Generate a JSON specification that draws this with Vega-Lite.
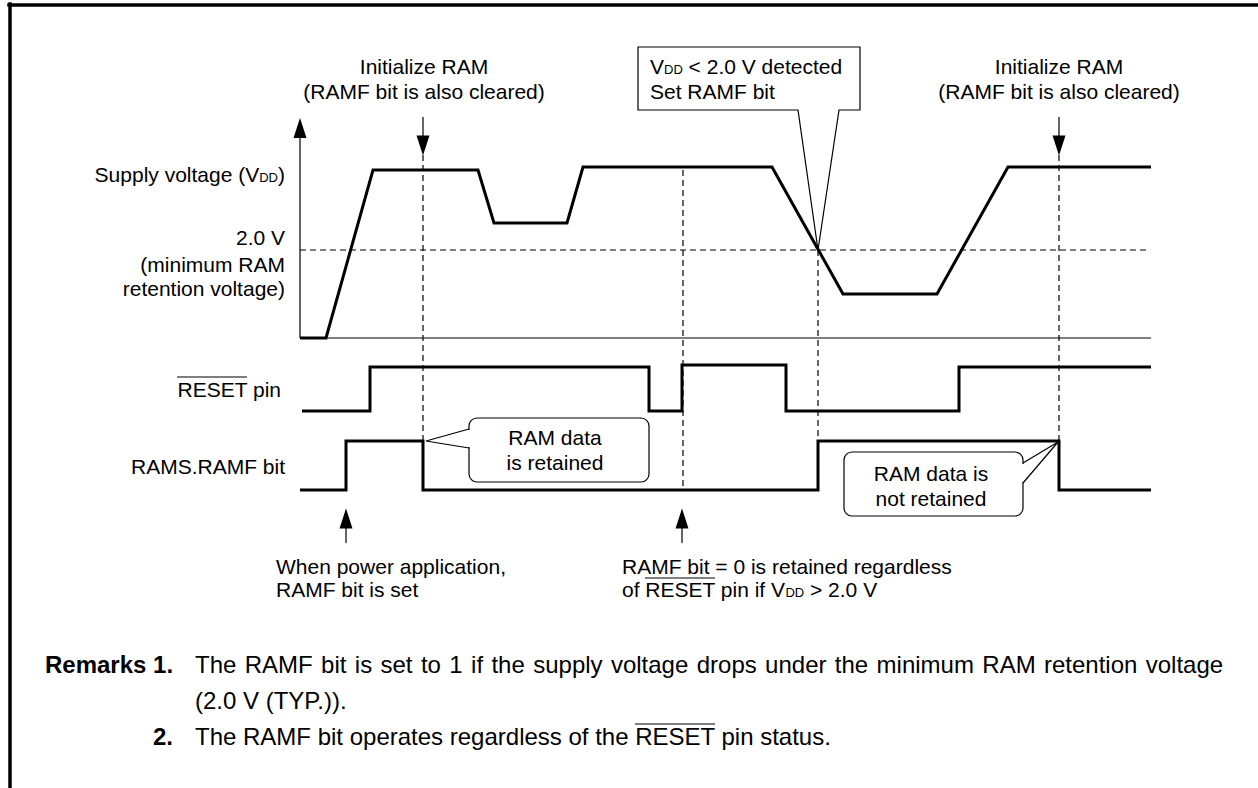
{
  "$schema": "https://vega.github.io/schema/vega-lite/v6.json",
  "width": 1258,
  "height": 788,
  "autosize": {"type": "none"},
  "padding": 0,
  "background": "white",
  "config": {"view": {"stroke": null}, "text": {"font": "Liberation Sans", "color": "#000", "baseline": "alphabetic"}},
  "datasets": {
    "thick": [
      {"s": "VDD", "o": 0, "x": 300, "y": 338}, {"s": "VDD", "o": 1, "x": 326, "y": 338},
      {"s": "VDD", "o": 2, "x": 373, "y": 170}, {"s": "VDD", "o": 3, "x": 478, "y": 170},
      {"s": "VDD", "o": 4, "x": 494, "y": 223}, {"s": "VDD", "o": 5, "x": 567, "y": 223},
      {"s": "VDD", "o": 6, "x": 583, "y": 167}, {"s": "VDD", "o": 7, "x": 772, "y": 167},
      {"s": "VDD", "o": 8, "x": 843, "y": 294}, {"s": "VDD", "o": 9, "x": 937, "y": 294},
      {"s": "VDD", "o": 10, "x": 1008, "y": 167}, {"s": "VDD", "o": 11, "x": 1151, "y": 167},
      {"s": "RST", "o": 0, "x": 302, "y": 411}, {"s": "RST", "o": 1, "x": 370, "y": 411},
      {"s": "RST", "o": 2, "x": 370, "y": 367}, {"s": "RST", "o": 3, "x": 649, "y": 367},
      {"s": "RST", "o": 4, "x": 649, "y": 411}, {"s": "RST", "o": 5, "x": 682, "y": 411},
      {"s": "RST", "o": 6, "x": 682, "y": 365}, {"s": "RST", "o": 7, "x": 786, "y": 365},
      {"s": "RST", "o": 8, "x": 786, "y": 411}, {"s": "RST", "o": 9, "x": 959, "y": 411},
      {"s": "RST", "o": 10, "x": 959, "y": 367}, {"s": "RST", "o": 11, "x": 1151, "y": 367},
      {"s": "RAMF", "o": 0, "x": 300, "y": 490}, {"s": "RAMF", "o": 1, "x": 346, "y": 490},
      {"s": "RAMF", "o": 2, "x": 346, "y": 441}, {"s": "RAMF", "o": 3, "x": 423, "y": 441},
      {"s": "RAMF", "o": 4, "x": 423, "y": 490}, {"s": "RAMF", "o": 5, "x": 818, "y": 490},
      {"s": "RAMF", "o": 6, "x": 818, "y": 441}, {"s": "RAMF", "o": 7, "x": 1059, "y": 441},
      {"s": "RAMF", "o": 8, "x": 1059, "y": 490}, {"s": "RAMF", "o": 9, "x": 1151, "y": 490}
    ],
    "thin": [
      {"s": "yaxis", "o": 0, "x": 300, "y": 136}, {"s": "yaxis", "o": 1, "x": 300, "y": 338},
      {"s": "base", "o": 0, "x": 300, "y": 338}, {"s": "base", "o": 1, "x": 1151, "y": 338},
      {"s": "st1", "o": 0, "x": 423, "y": 117}, {"s": "st1", "o": 1, "x": 423, "y": 137},
      {"s": "st2", "o": 0, "x": 1059, "y": 117}, {"s": "st2", "o": 1, "x": 1059, "y": 137},
      {"s": "st3", "o": 0, "x": 346, "y": 527}, {"s": "st3", "o": 1, "x": 346, "y": 543},
      {"s": "st4", "o": 0, "x": 682, "y": 527}, {"s": "st4", "o": 1, "x": 682, "y": 543},
      {"s": "box", "o": 0, "x": 818, "y": 250}, {"s": "box", "o": 1, "x": 798, "y": 110},
      {"s": "box", "o": 2, "x": 638, "y": 110}, {"s": "box", "o": 3, "x": 638, "y": 47},
      {"s": "box", "o": 4, "x": 860, "y": 47}, {"s": "box", "o": 5, "x": 860, "y": 110},
      {"s": "box", "o": 6, "x": 839, "y": 110}, {"s": "box", "o": 7, "x": 818, "y": 250},
      {"s": "p1", "o": 0, "x": 469, "y": 429}, {"s": "p1", "o": 1, "x": 426, "y": 441},
      {"s": "p1", "o": 2, "x": 469, "y": 448},
      {"s": "p2", "o": 0, "x": 1023, "y": 463}, {"s": "p2", "o": 1, "x": 1058, "y": 442},
      {"s": "p2", "o": 2, "x": 1023, "y": 483},
      {"s": "ov1", "o": 0, "x": 177, "y": 377}, {"s": "ov1", "o": 1, "x": 247, "y": 377},
      {"s": "ov2", "o": 0, "x": 645, "y": 578}, {"s": "ov2", "o": 1, "x": 715, "y": 578},
      {"s": "ov3", "o": 0, "x": 635, "y": 724}, {"s": "ov3", "o": 1, "x": 715, "y": 724}
    ],
    "dash": [
      {"s": "h", "o": 0, "x": 300, "y": 250}, {"s": "h", "o": 1, "x": 1148, "y": 250},
      {"s": "v1", "o": 0, "x": 423, "y": 155}, {"s": "v1", "o": 1, "x": 423, "y": 441},
      {"s": "v2", "o": 0, "x": 683, "y": 170}, {"s": "v2", "o": 1, "x": 683, "y": 490},
      {"s": "v3", "o": 0, "x": 818, "y": 250}, {"s": "v3", "o": 1, "x": 818, "y": 441},
      {"s": "v4", "o": 0, "x": 1059, "y": 155}, {"s": "v4", "o": 1, "x": 1059, "y": 441}
    ],
    "frame": [
      {"s": "top", "o": 0, "x": 9, "y": 5}, {"s": "top", "o": 1, "x": 1258, "y": 5},
      {"s": "left", "o": 0, "x": 10, "y": 4}, {"s": "left", "o": 1, "x": 10, "y": 788}
    ],
    "boxes": [
      {"x": 469, "x2": 649, "y": 418, "y2": 482},
      {"x": 844, "x2": 1023, "y": 452, "y2": 516}
    ],
    "covers": [
      {"s": "c1", "o": 0, "x": 469, "y": 430}, {"s": "c1", "o": 1, "x": 469, "y": 447},
      {"s": "c2", "o": 0, "x": 1023, "y": 464}, {"s": "c2", "o": 1, "x": 1023, "y": 482}
    ],
    "headsDown": [{"x": 423, "y": 145.5}, {"x": 1059, "y": 145.5}],
    "headsUp": [{"x": 346, "y": 518.5}, {"x": 682, "y": 518.5}, {"x": 300, "y": 128}],
    "textC": [
      {"x": 424, "y": 74, "t": "Initialize RAM"},
      {"x": 424, "y": 99, "t": "(RAMF bit is also cleared)"},
      {"x": 1059, "y": 74, "t": "Initialize RAM"},
      {"x": 1059, "y": 99, "t": "(RAMF bit is also cleared)"},
      {"x": 555, "y": 445, "t": "RAM data"},
      {"x": 555, "y": 470, "t": "is retained"},
      {"x": 931, "y": 481, "t": "RAM data is"},
      {"x": 931, "y": 506, "t": "not retained"}
    ],
    "textL": [
      {"x": 650, "y": 74, "t": "V"},
      {"x": 688.6, "y": 74, "t": "< 2.0 V detected"},
      {"x": 650, "y": 99, "t": "Set RAMF bit"},
      {"x": 278, "y": 182, "t": ")"},
      {"x": 276, "y": 574, "t": "When power application,"},
      {"x": 276, "y": 597, "t": "RAMF bit is set"},
      {"x": 622, "y": 574, "t": "RAMF bit = 0 is retained regardless"},
      {"x": 622, "y": 597, "t": "of RESET pin if V"},
      {"x": 810, "y": 597, "t": "> 2.0 V"}
    ],
    "textR": [
      {"x": 259.2, "y": 182, "t": "Supply voltage (V"},
      {"x": 285, "y": 245, "t": "2.0 V"},
      {"x": 285, "y": 272, "t": "(minimum RAM"},
      {"x": 285, "y": 296, "t": "retention voltage)"},
      {"x": 281, "y": 397, "t": "RESET pin"},
      {"x": 285, "y": 474, "t": "RAMS.RAMF bit"}
    ],
    "textSub": [
      {"x": 664, "y": 74, "t": "DD"},
      {"x": 259.2, "y": 182, "t": "DD"},
      {"x": 785.4, "y": 597, "t": "DD"}
    ],
    "remBoldL": [{"x": 45, "y": 673, "t": "Remarks 1."}],
    "remBoldR": [{"x": 173, "y": 745, "t": "2."}],
    "remL": [
      {"x": 195, "y": 673, "t": "The"},
      {"x": 244.7, "y": 673, "t": "RAMF"},
      {"x": 321.1, "y": 673, "t": "bit"},
      {"x": 354.8, "y": 673, "t": "is"},
      {"x": 380.5, "y": 673, "t": "set"},
      {"x": 420.9, "y": 673, "t": "to"},
      {"x": 449.3, "y": 673, "t": "1"},
      {"x": 471.1, "y": 673, "t": "if"},
      {"x": 491.4, "y": 673, "t": "the"},
      {"x": 533.2, "y": 673, "t": "supply"},
      {"x": 610.9, "y": 673, "t": "voltage"},
      {"x": 696.7, "y": 673, "t": "drops"},
      {"x": 765.1, "y": 673, "t": "under"},
      {"x": 834.8, "y": 673, "t": "the"},
      {"x": 876.6, "y": 673, "t": "minimum"},
      {"x": 982.3, "y": 673, "t": "RAM"},
      {"x": 1044.0, "y": 673, "t": "retention"},
      {"x": 1145.7, "y": 673, "t": "voltage"},
      {"x": 195, "y": 709, "t": "(2.0 V (TYP.))."},
      {"x": 195, "y": 745, "t": "The RAMF bit operates regardless of the RESET pin status."}
    ]
  },
  "encoding": {
    "x": {"field": "x", "type": "quantitative", "scale": {"domain": [0, 1258], "range": [0, 1258], "nice": false, "zero": false}, "axis": null},
    "y": {"field": "y", "type": "quantitative", "scale": {"domain": [0, 788], "range": [0, 788], "nice": false, "zero": false}, "axis": null}
  },
  "layer": [
    {"data": {"name": "frame"}, "mark": {"type": "line", "color": "#000", "strokeWidth": 3.5, "strokeCap": "square"}, "encoding": {"detail": {"field": "s"}, "order": {"field": "o"}}},
    {"data": {"name": "dash"}, "mark": {"type": "line", "color": "#000", "strokeWidth": 1.2, "strokeDash": [6, 4]}, "encoding": {"detail": {"field": "s"}, "order": {"field": "o"}}},
    {"data": {"name": "boxes"}, "mark": {"type": "rect", "fill": "white", "stroke": "#000", "strokeWidth": 1.2, "cornerRadius": 8}, "encoding": {"x2": {"field": "x2"}, "y2": {"field": "y2"}}},
    {"data": {"name": "covers"}, "mark": {"type": "line", "color": "white", "strokeWidth": 3}, "encoding": {"detail": {"field": "s"}, "order": {"field": "o"}}},
    {"data": {"name": "thin"}, "mark": {"type": "line", "color": "#000", "strokeWidth": 1.2, "strokeJoin": "miter"}, "encoding": {"detail": {"field": "s"}, "order": {"field": "o"}}},
    {"data": {"name": "thick"}, "mark": {"type": "line", "color": "#000", "strokeWidth": 3, "strokeJoin": "miter"}, "encoding": {"detail": {"field": "s"}, "order": {"field": "o"}}},
    {"data": {"name": "headsDown"}, "mark": {"type": "point", "shape": "M -0.65 -1 L 0.65 -1 L 0 1 Z", "size": 400, "filled": true, "color": "#000", "opacity": 1, "strokeWidth": 0}},
    {"data": {"name": "headsUp"}, "mark": {"type": "point", "shape": "M -0.65 1 L 0.65 1 L 0 -1 Z", "size": 400, "filled": true, "color": "#000", "opacity": 1, "strokeWidth": 0}},
    {"data": {"name": "textC"}, "mark": {"type": "text", "align": "center", "fontSize": 21}, "encoding": {"text": {"field": "t"}}},
    {"data": {"name": "textL"}, "mark": {"type": "text", "align": "left", "fontSize": 21}, "encoding": {"text": {"field": "t"}}},
    {"data": {"name": "textR"}, "mark": {"type": "text", "align": "right", "fontSize": 21}, "encoding": {"text": {"field": "t"}}},
    {"data": {"name": "textSub"}, "mark": {"type": "text", "align": "left", "fontSize": 13}, "encoding": {"text": {"field": "t"}}},
    {"data": {"name": "remBoldL"}, "mark": {"type": "text", "align": "left", "fontSize": 24, "fontWeight": "bold"}, "encoding": {"text": {"field": "t"}}},
    {"data": {"name": "remBoldR"}, "mark": {"type": "text", "align": "right", "fontSize": 24, "fontWeight": "bold"}, "encoding": {"text": {"field": "t"}}},
    {"data": {"name": "remL"}, "mark": {"type": "text", "align": "left", "fontSize": 24}, "encoding": {"text": {"field": "t"}}}
  ]
}
